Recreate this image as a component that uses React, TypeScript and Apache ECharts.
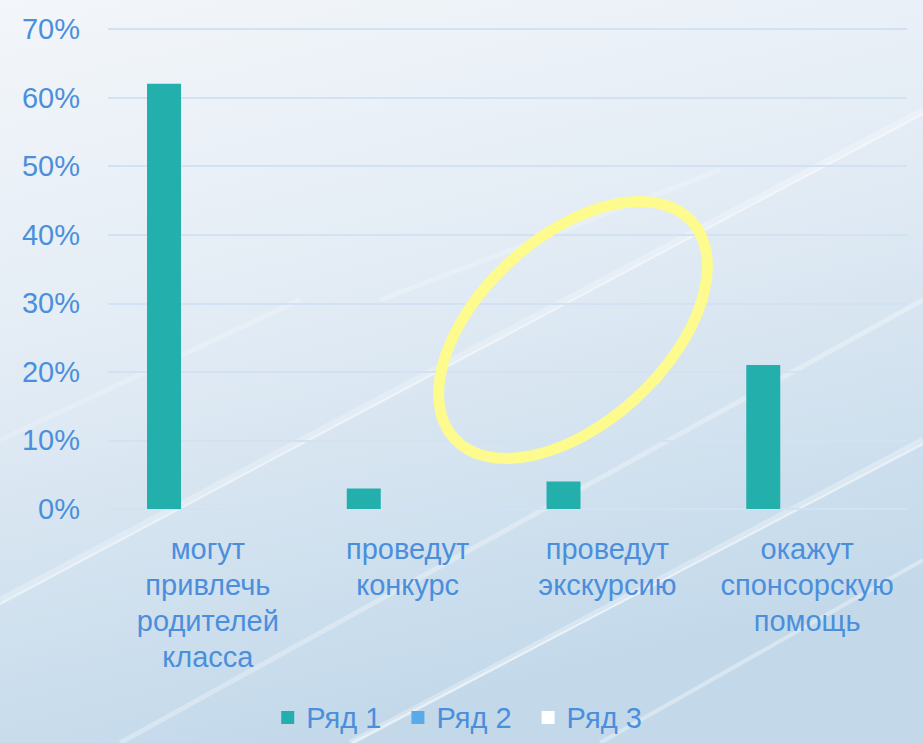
import React, { useEffect, useRef } from "react";
import * as echarts from "echarts";

const categories = [
  "могут\nпривлечь\nродителей\nкласса",
  "проведут\nконкурс",
  "проведут\nэкскурсию",
  "окажут\nспонсорскую\nпомощь",
];
const seriesNames = ["Ряд 1", "Ряд 2", "Ряд 3"];
const series1Values = [62, 3, 4, 21];
const series2Values: (number | null)[] = [null, null, null, null];
const series3Values: (number | null)[] = [null, null, null, null];
const yTicks = [0, 10, 20, 30, 40, 50, 60, 70];

const TEXT = "#4b8fdc";
const FONT = "'Liberation Sans', Arial, sans-serif";
const FS = 29;

export default function App() {
  const ref = useRef<HTMLDivElement>(null);
  useEffect(() => {
    if (!ref.current) return;
    const chart = echarts.init(ref.current, null, { renderer: "svg" });
    const streak = (x1: number, y1: number, x2: number, y2: number, w: number, o: number) => ({
      type: "line",
      silent: true,
      z: -10,
      shape: { x1, y1, x2, y2 },
      style: { stroke: "rgba(255,255,255," + o + ")", lineWidth: w },
    });
    chart.setOption({
      animation: false,
      backgroundColor: {
        type: "linear",
        x: 0,
        y: 0,
        x2: 0.3,
        y2: 1,
        colorStops: [
          { offset: 0, color: "#f3f6fa" },
          { offset: 0.45, color: "#e3ecf5" },
          { offset: 1, color: "#c3d9ea" },
        ],
      },
      textStyle: { fontFamily: FONT },
      graphic: [
        streak(0, 600, 923, 110, 6, 0.25),
        streak(0, 604, 923, 114, 2, 0.5),
        streak(120, 743, 923, 300, 5, 0.3),
        streak(350, 743, 923, 440, 6, 0.3),
        streak(352, 743, 923, 444, 2, 0.5),
        streak(600, 743, 923, 560, 4, 0.35),
        streak(380, 300, 720, 170, 5, 0.2),
        streak(0, 440, 300, 300, 5, 0.2),
        {
          type: "ellipse",
          z: 100,
          x: 573,
          y: 330,
          rotation: 0.74,
          shape: { cx: 0, cy: 0, rx: 161, ry: 93 },
          style: { fill: "none", stroke: "#fdfa8e", lineWidth: 11 },
        },
      ],
      grid: { left: 108, right: 16, top: 29, bottom: 234 },
      xAxis: {
        type: "category",
        data: categories,
        axisLine: { show: false },
        axisTick: { show: false },
        axisLabel: {
          color: TEXT,
          fontSize: FS,
          fontFamily: FONT,
          lineHeight: 36,
          margin: 22,
          interval: 0,
        },
      },
      yAxis: {
        type: "value",
        min: yTicks[0],
        max: yTicks[yTicks.length - 1],
        interval: 10,
        axisLabel: {
          color: TEXT,
          fontSize: FS,
          fontFamily: FONT,
          margin: 28,
          formatter: "{value}%",
        },
        axisLine: { show: false },
        axisTick: { show: false },
        splitLine: { lineStyle: { color: "#d3e2f3", width: 2 } },
      },
      legend: {
        bottom: 6,
        left: "center",
        icon: "rect",
        itemWidth: 13,
        itemHeight: 13,
        itemGap: 30,
        data: seriesNames,
        textStyle: { color: TEXT, fontSize: FS, fontFamily: FONT, padding: [0, 0, 0, 7] },
      },
      series: [
        {
          name: seriesNames[0],
          type: "bar",
          data: series1Values,
          barWidth: 34,
          barGap: "29%",
          itemStyle: { color: "#23b0ad" },
        },
        {
          name: seriesNames[1],
          type: "bar",
          data: series2Values,
          barWidth: 34,
          barGap: "29%",
          itemStyle: { color: "#5aaae8" },
        },
        {
          name: seriesNames[2],
          type: "bar",
          data: series3Values,
          barWidth: 34,
          barGap: "29%",
          itemStyle: { color: "#ffffff" },
        },
      ],
    });
    return () => chart.dispose();
  }, []);
  return (
    <div
      ref={ref}
      style={{ position: "fixed", left: 0, top: 0, width: 923, height: 743 }}
    />
  );
}
